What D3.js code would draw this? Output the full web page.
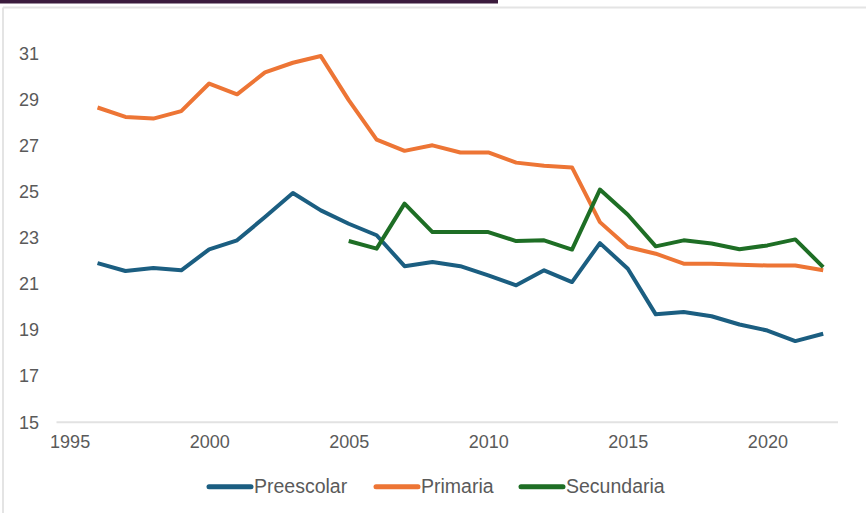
<!DOCTYPE html>
<html>
<head>
<meta charset="utf-8">
<script src="https://cdn.jsdelivr.net/npm/d3@7"></script>
<style>
  html, body { margin: 0; padding: 0; background: #fff; }
  svg { display: block; }
  text { font-family: "Liberation Sans", Arial, sans-serif; fill: #5a5a5a; }
</style>
</head>
<body>
<script>
// Average students per group, by level
const years = d3.range(1996, 2023);
const preescolar = [21.90, 21.56, 21.69, 21.59, 22.50, 22.89, 23.90, 24.94, 24.19, 23.61,
  23.11, 21.77, 21.95, 21.77, 21.37, 20.94, 21.59, 21.08, 22.77, 21.66,
  19.68, 19.78, 19.60, 19.24, 18.98, 18.52, 18.84];
const primaria = [28.65, 28.24, 28.17, 28.49, 29.69, 29.22, 30.17, 30.59, 30.88, 28.97,
  27.26, 26.77, 27.01, 26.70, 26.70, 26.26, 26.12, 26.05, 23.68, 22.60,
  22.31, 21.88, 21.87, 21.83, 21.80, 21.80, 21.59];
const secundariaYears = d3.range(2005, 2023);
const secundaria = [22.86, 22.53, 24.48, 23.25, 23.25, 23.25, 22.86, 22.89, 22.49, 25.09,
  24.00, 22.63, 22.89, 22.75, 22.50, 22.67, 22.93, 21.73];
const xTicks = [1995, 2000, 2005, 2010, 2015, 2020];
const yTicks = [15, 17, 19, 21, 23, 25, 27, 29, 31];
const seriesNames = ["Preescolar", "Primaria", "Secundaria"];
const seriesColors = ["#1b5e81", "#ed7535", "#1e6e25"];

const W = 866, H = 513;
const svg = d3.select("body").append("svg").attr("width", W).attr("height", H);

// page frame
svg.append("rect").attr("x", 0).attr("y", 0).attr("width", 498).attr("height", 3.5).attr("fill", "#3b1b3d");
svg.append("line").attr("x1", 3).attr("x2", W).attr("y1", 7.5).attr("y2", 7.5)
  .attr("stroke", "#e4e4e4").attr("stroke-width", 2);
svg.append("line").attr("x1", 3).attr("x2", 3).attr("y1", 7.5).attr("y2", H)
  .attr("stroke", "#e4e4e4").attr("stroke-width", 2);

const x = d3.scaleLinear().domain([1994.53, 2022.53]).range([56.5, 838]);
const y = d3.scaleLinear().domain([15, 31]).range([422.3, 53.3]);

// baseline
svg.append("line").attr("x1", x.range()[0]).attr("x2", x.range()[1])
  .attr("y1", y(15)).attr("y2", y(15)).attr("stroke", "#e2e2e2").attr("stroke-width", 2);

// y axis labels
const yAxis = d3.axisLeft(y).tickValues(yTicks).tickSize(0).tickPadding(0).tickFormat(d3.format("d"));
const gy = svg.append("g").attr("transform", "translate(39,0)").call(yAxis);
gy.select(".domain").remove();
gy.selectAll("text").style("font-size", "18px").attr("fill", "#5a5a5a");

// x axis labels
const xAxis = d3.axisBottom(x).tickValues(xTicks).tickSize(0).tickPadding(0).tickFormat(d3.format("d"));
const gx = svg.append("g").attr("transform", `translate(0,${y(15) + 13})`).call(xAxis);
gx.select(".domain").remove();
gx.selectAll("text").style("font-size", "18px").attr("fill", "#5a5a5a");

const line = d3.line().x(d => x(d[0])).y(d => y(d[1]));
const seriesData = [
  years.map((yr, i) => [yr, preescolar[i]]),
  years.map((yr, i) => [yr, primaria[i]]),
  secundariaYears.map((yr, i) => [yr, secundaria[i]])
];
seriesData.forEach((data, i) => {
  svg.append("path").datum(data).attr("d", line)
    .attr("fill", "none").attr("stroke", seriesColors[i])
    .attr("stroke-width", 4).attr("stroke-linejoin", "round").attr("stroke-linecap", "butt");
});

// legend
const legendX = [209, 376, 521];
const legY = 486.7;
seriesNames.forEach((name, i) => {
  const g = svg.append("g").attr("transform", `translate(${legendX[i]},${legY})`);
  g.append("line").attr("x1", 0).attr("x2", 42).attr("y1", 0).attr("y2", 0)
    .attr("stroke", seriesColors[i]).attr("stroke-width", 5).attr("stroke-linecap", "round");
  g.append("text").attr("x", 45).attr("y", 6.5).style("font-size", "19.5px").text(name);
});
</script>
</body>
</html>
